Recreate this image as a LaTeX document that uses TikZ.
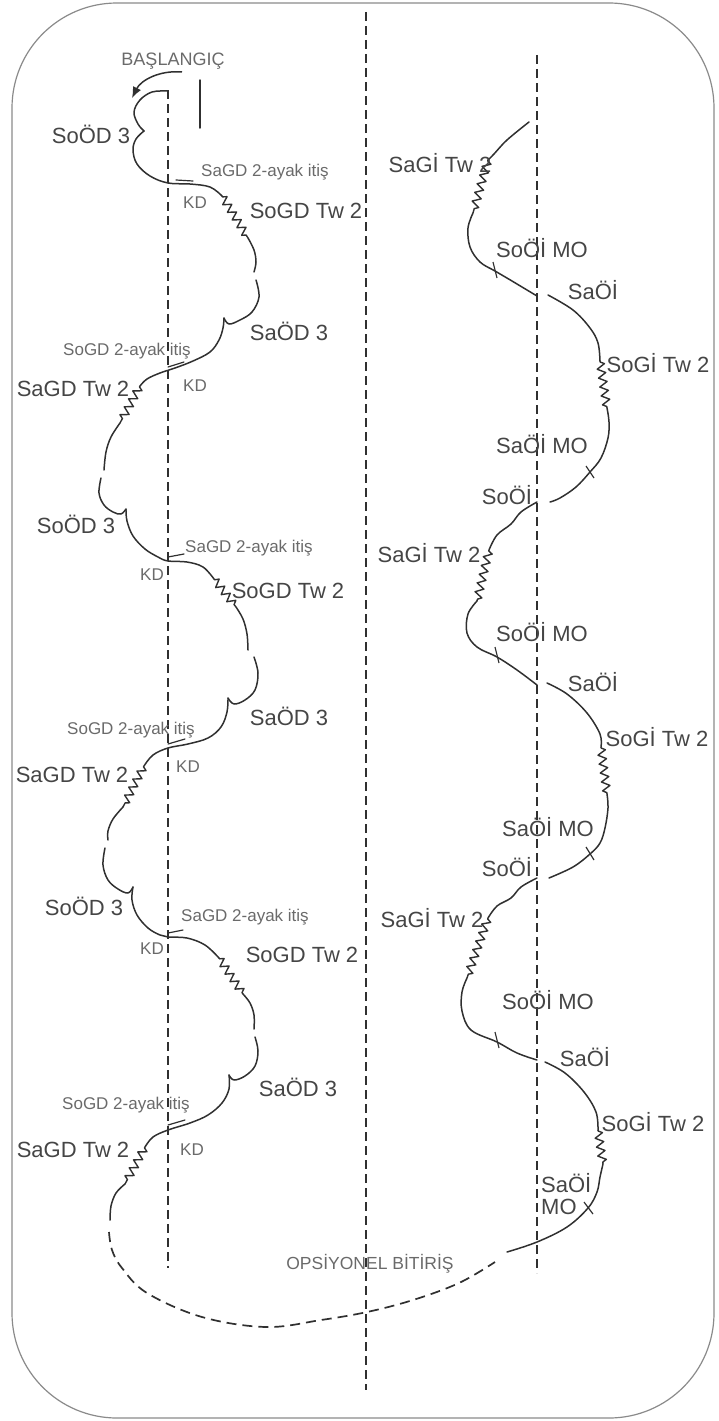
\documentclass[tikz,border=0pt]{standalone}
\usepackage{fontspec}
\setmainfont{Liberation Sans}
\usetikzlibrary{decorations.pathmorphing, arrows.meta}
\definecolor{ink}{HTML}{303030}
\definecolor{lbl}{HTML}{454545}
\definecolor{lbls}{HTML}{6a6a6a}
\definecolor{frame}{HTML}{8a8a8a}
\begin{document}
\begin{tikzpicture}[x=1pt,y=-1pt,
  skate/.style={draw=ink, line width=1.5pt, line cap=round, line join=round},
  twz/.style={draw=ink, line width=1.4pt, line join=round, decorate, decoration={zigzag, amplitude=4pt, segment length=9pt, pre length=1pt, post length=1pt}},
  axis/.style={draw=ink, line width=1.4pt, dash pattern=on 9pt off 5pt},
  optline/.style={draw=ink, line width=1.7pt, dash pattern=on 10pt off 6pt},
  biglbl/.style={text=lbl, font=\fontsize{22}{24}\selectfont, inner sep=0pt},
  smalllbl/.style={text=lbls, font=\fontsize{17}{19}\selectfont, inner sep=0pt},
  tick/.style={draw=ink, line width=1.2pt}]
\useasboundingbox (0,0) rectangle (718,1421);
% frame
\draw[frame, line width=1.2pt, rounded corners=105pt] (12,3) rectangle (714,1418);
% axes
\draw[axis] (366,12) -- (366,1390);
\draw[axis] (168,90) -- (168,1268);
\draw[axis] (537,55) -- (537,1273);
\draw[skate] (200,80) -- (200,128);
% start
\node[smalllbl, font=\fontsize{18}{20}\selectfont] (start) at (173,61) {BAŞLANGIÇ};
\draw[draw=ink, line width=1.5pt, -{Latex[length=11pt,width=9pt]}] (182,72) .. controls (160,70) and (141,80) .. (132,98);

% ===== left pattern =====
\draw[skate] plot[smooth, tension=0.6] coordinates {(167,91) (152,92) (140,100) (134,112) (138,124) (144,131)};
\draw[skate] plot[smooth, tension=0.6] coordinates {(144,131) (136,139) (133,150) (137,164) (150,176) (168,183) (190,184) (210,187) (222,196)};
\draw[twz] (222,196) -- (248,238);
\draw[skate] plot[smooth, tension=0.6] coordinates {(248,238) (254,250) (256,262) (254,272)};
\draw[skate] plot[smooth, tension=0.6] coordinates {(256,280) (259,297) (252,312) (240,320) (229,324) (224,318)};
\draw[skate] plot[smooth, tension=0.6] coordinates {(224,318) (223,328) (219,340) (210,352) (193,361) (175,368) (160,373) (147,379) (140,386)};
\draw[twz] (140,386) -- (120,423);
\draw[skate] plot[smooth, tension=0.6] coordinates {(120,423) (111,437) (106,452) (104,470)};
\draw[skate] plot[smooth, tension=0.6] coordinates {(101,478) (99,493) (104,505) (113,512) (121,514) (126,509)};
\draw[skate] plot[smooth, tension=0.6] coordinates {(126,509) (127,521) (133,536) (145,549) (158,557) (168,561) (187,562) (203,567) (214,579)};
\draw[twz] (214,579) -- (236,607);
\draw[skate] plot[smooth, tension=0.6] coordinates {(236,607) (243,619) (247,634) (248,650)};
\draw[skate] plot[smooth, tension=0.6] coordinates {(254,657) (258,673) (255,690) (245,700) (234,704) (228,698)};
\draw[skate] plot[smooth, tension=0.6] coordinates {(228,698) (227,712) (221,727) (208,738) (188,744) (168,748) (153,755) (144,766)};
\draw[twz] (144,766) -- (123,807);
\draw[skate] plot[smooth, tension=0.6] coordinates {(123,807) (113,819) (108,831) (108,840)};
\draw[skate] plot[smooth, tension=0.6] coordinates {(105,848) (103,865) (108,880) (118,889) (128,893) (133,887)};
\draw[skate] plot[smooth, tension=0.6] coordinates {(133,887) (132,900) (137,915) (148,928) (160,935) (168,937) (187,938) (205,945) (219,958)};
\draw[twz] (219,958) -- (243,994);
\draw[skate] plot[smooth, tension=0.6] coordinates {(243,994) (250,1003) (254,1015) (254,1029)};
\draw[skate] plot[smooth, tension=0.6] coordinates {(255,1037) (258,1051) (255,1066) (245,1076) (234,1080) (229,1075)};
\draw[skate] plot[smooth, tension=0.6] coordinates {(229,1075) (229,1089) (222,1103) (208,1115) (190,1123) (168,1130) (153,1137) (145,1147)};
\draw[twz] (145,1147) -- (125,1184);
\draw[skate] plot[smooth, tension=0.6] coordinates {(125,1184) (116,1193) (111,1206) (110,1220)};
% optional ending
\draw[optline] plot[smooth, tension=0.6] coordinates {(109,1232) (112,1250) (122,1268) (147,1293) (202,1317) (266,1327) (321,1320) (367,1312) (413,1300) (459,1283) (495,1262)};
\node[smalllbl, font=\fontsize{17.5}{19}\selectfont] (opt) at (370,1264) {OPSİYONEL BİTİRİŞ};

% two-foot push strokes
\draw[skate, line width=1.2pt] (176,180) -- (193,181);
\draw[skate, line width=1.2pt] (168,367) -- (184,362);
\draw[skate, line width=1.2pt] (168,557) -- (184,554);
\draw[skate, line width=1.2pt] (168,744) -- (185,739);
\draw[skate, line width=1.2pt] (168,933) -- (183,930);
\draw[skate, line width=1.2pt] (168,1125) -- (185,1120);

% left labels
\node[biglbl] (a1) at (91,134) {SoÖD 3};
\node[smalllbl] (b1) at (265,172) {SaGD 2-ayak itiş};
\node[smalllbl] (k1) at (195,203) {KD};
\node[biglbl] (c1) at (306,211) {SoGD Tw 2};
\node[biglbl] (d1) at (289,331) {SaÖD 3};
\node[smalllbl] (e1) at (127,351) {SoGD 2-ayak itiş};
\node[smalllbl] (k2) at (195,386) {KD};
\node[biglbl] (f1) at (73,389) {SaGD Tw 2};
\node[biglbl] (a2) at (76,524) {SoÖD 3};
\node[smalllbl] (b2) at (249,548) {SaGD 2-ayak itiş};
\node[smalllbl] (k3) at (152,575) {KD};
\node[biglbl] (c2) at (288,591) {SoGD Tw 2};
\node[biglbl] (d2) at (289,716) {SaÖD 3};
\node[smalllbl] (e2) at (131,730) {SoGD 2-ayak itiş};
\node[smalllbl] (k4) at (188,767) {KD};
\node[biglbl] (f2) at (72,775) {SaGD Tw 2};
\node[biglbl] (a3) at (84,906) {SoÖD 3};
\node[smalllbl] (b3) at (245,917) {SaGD 2-ayak itiş};
\node[smalllbl] (k5) at (152,949) {KD};
\node[biglbl] (c3) at (302,955) {SoGD Tw 2};
\node[biglbl] (d3) at (298,1087) {SaÖD 3};
\node[smalllbl] (e3) at (126,1105) {SoGD 2-ayak itiş};
\node[smalllbl] (k6) at (192,1150) {KD};
\node[biglbl] (f3) at (73,1150) {SaGD Tw 2};

% ===== right pattern =====
\draw[skate] plot[smooth, tension=0.6] coordinates {(529,122) (507,140) (494,154) (488,160)};
\draw[twz] (488,160) -- (473,213);
\draw[skate] plot[smooth, tension=0.6] coordinates {(473,213) (468,228) (470,247) (480,262) (495,271) (512,281) (537,296)};
\draw[skate] plot[smooth, tension=0.6] coordinates {(548,295) (573,310) (590,328) (598,343) (600,361)};
\draw[twz] (600,361) -- (607,408);
\draw[skate] plot[smooth, tension=0.6] coordinates {(607,408) (609,422) (608,438) (601,458) (590,472) (576,487) (560,498) (550,502)};
\draw[skate] plot[smooth, tension=0.6] coordinates {(537,502) (521,512) (511,524) (497,535) (489,550)};
\draw[twz] (489,550) -- (477,601);
\draw[skate] plot[smooth, tension=0.6] coordinates {(477,601) (468,614) (467,633) (477,647) (497,657) (517,670) (537,685)};
\draw[skate] plot[smooth, tension=0.6] coordinates {(547,683) (567,694) (587,713) (600,734) (601,747)};
\draw[twz] (601,747) -- (607,794);
\draw[skate] plot[smooth, tension=0.6] coordinates {(607,794) (608,808) (605,828) (600,843) (590,854) (573,867) (549,878)};
\draw[skate] plot[smooth, tension=0.6] coordinates {(537,878) (521,887) (511,898) (497,906) (488,918)};
\draw[twz] (488,918) -- (467,978);
\draw[skate] plot[smooth, tension=0.6] coordinates {(467,978) (462,992) (462,1011) (471,1030) (497,1042) (517,1053) (537,1060)};
\draw[skate] plot[smooth, tension=0.6] coordinates {(545,1062) (565,1073) (584,1092) (596,1112) (598,1130)};
\draw[twz] (598,1130) -- (603,1164);
\draw[skate] plot[smooth, tension=0.6] coordinates {(603,1164) (600,1177) (597,1192) (588,1208) (567,1227) (537,1242) (507,1252)};
% MO ticks
\draw[tick] (493,262) -- (497,278);
\draw[tick] (586,466) -- (594,478);
\draw[tick] (495,647) -- (499,663);
\draw[tick] (586,847) -- (594,860);
\draw[tick] (495,1032) -- (499,1048);
\draw[tick] (584,1202) -- (593,1214);

% right labels
\node[biglbl] (r1) at (440,163) {SaGİ Tw 2};
\node[biglbl] (r2) at (542,248) {SoÖİ MO};
\node[biglbl] (r3) at (593,290) {SaÖİ};
\node[biglbl] (r4) at (658,363) {SoGİ Tw 2};
\node[biglbl] (r5) at (542,444) {SaÖİ MO};
\node[biglbl] (r6) at (507,495) {SoÖİ};
\node[biglbl] (r7) at (429,553) {SaGİ Tw 2};
\node[biglbl] (r8) at (542,632) {SoÖİ MO};
\node[biglbl] (r9) at (593,682) {SaÖİ};
\node[biglbl] (r10) at (657,737) {SoGİ Tw 2};
\node[biglbl] (r11) at (548,827) {SaÖİ MO};
\node[biglbl] (r12) at (507,867) {SoÖİ};
\node[biglbl] (r13) at (432,918) {SaGİ Tw 2};
\node[biglbl] (r14) at (548,1000) {SoÖİ MO};
\node[biglbl] (r15) at (585,1057) {SaÖİ};
\node[biglbl] (r16) at (653,1122) {SoGİ Tw 2};
\node[biglbl, anchor=west] (r17) at (541,1183) {SaÖİ};
\node[biglbl, anchor=west] (r18) at (541,1207) {MO};
\end{tikzpicture}
\end{document}
